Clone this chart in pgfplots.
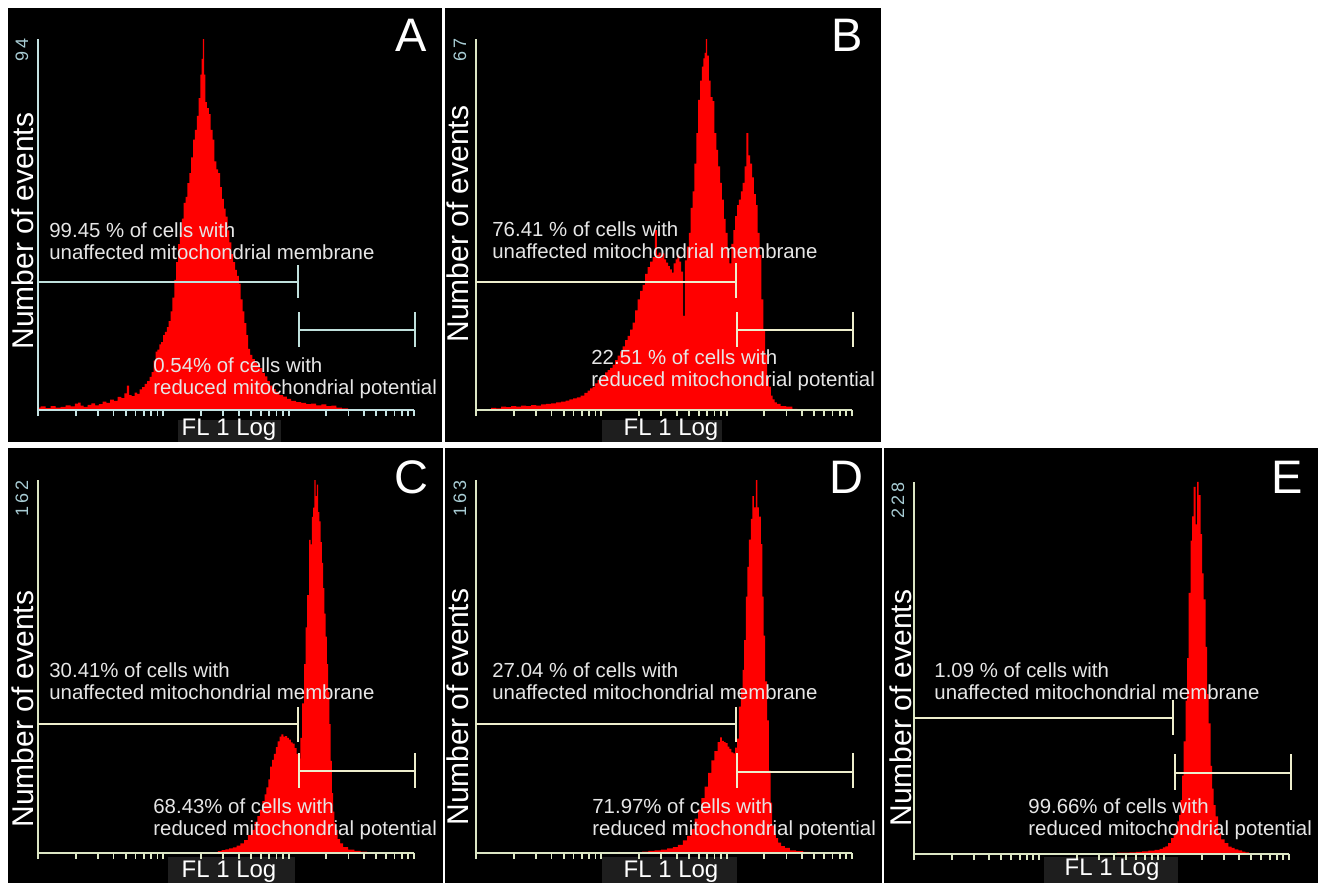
\documentclass[border=0pt]{standalone}
\usepackage{fontspec}
\setmainfont{Liberation Sans}
\usepackage{pgfplots}
\usepackage{pgfplotstable}
\pgfplotsset{compat=1.18}

\definecolor{gatecyan}{HTML}{BFE0DC}
\definecolor{gatecream}{HTML}{EEEECC}
\definecolor{axcyan}{HTML}{C4E2E2}
\definecolor{axcream}{HTML}{DCE6C4}
\definecolor{maxlbl}{HTML}{A8CCD4}
\definecolor{lblbg}{HTML}{1E1E1E}
\definecolor{txt}{HTML}{E6E6E6}
\definecolor{hist}{HTML}{FF0000}

% x = log10 of FL1 channel (0..3), y = number of events
\pgfplotstableread{
x y
0.00 0.6
0.04 0.9
0.08 0.5
0.12 1.0
0.16 0.6
0.20 0.8
0.24 1.2
0.28 0.9
0.31 1.6
0.33 1.9
0.35 1.1
0.38 0.8
0.41 1.3
0.44 1.7
0.47 1.2
0.50 1.5
0.53 2.1
0.56 1.8
0.59 2.6
0.62 2.3
0.65 3.3
0.68 3.0
0.70 4.2
0.72 6.2
0.735 3.8
0.76 3.5
0.78 4.4
0.80 4.1
0.82 5.2
0.84 5.8
0.86 6.6
0.88 7.3
0.90 8.4
0.915 9.6
0.93 12.5
0.945 14.8
0.96 15.3
0.975 16.6
0.99 17.2
1.005 19.0
1.02 19.8
1.035 21.0
1.05 22.5
1.065 25.0
1.08 28.5
1.095 33.0
1.11 37.5
1.125 42.0
1.14 45.0
1.155 48.5
1.17 52.5
1.185 54.0
1.20 57.5
1.215 60.0
1.23 64.0
1.245 68.5
1.26 71.0
1.275 74.5
1.29 79.0
1.30 85.0
1.31 89.0
1.32 94.0
1.33 85.0
1.34 78.0
1.355 76.5
1.37 75.0
1.385 71.0
1.40 68.5
1.415 63.0
1.43 61.0
1.445 60.0
1.46 56.5
1.475 53.5
1.49 51.0
1.505 49.0
1.52 45.5
1.535 42.5
1.55 39.5
1.565 37.5
1.58 35.5
1.595 34.0
1.61 32.0
1.625 28.0
1.64 25.0
1.655 22.0
1.67 19.0
1.685 15.5
1.70 14.0
1.72 12.9
1.74 12.0
1.76 11.4
1.78 10.6
1.80 9.4
1.82 8.5
1.84 7.3
1.86 6.2
1.88 5.3
1.91 4.6
1.94 3.8
1.97 3.4
2.00 2.8
2.04 2.3
2.08 2.0
2.12 1.8
2.16 1.5
2.20 1.6
2.24 1.2
2.28 1.4
2.32 1.0
2.36 1.1
2.40 0.6
2.45 0.4
2.50 0.2
2.55 0.0
3.00 0.0
}\histA

\pgfplotstableread{
x y
0.00 0.0
0.10 0.1
0.14 0.4
0.18 0.3
0.22 0.6
0.26 0.5
0.30 0.7
0.34 0.6
0.38 0.8
0.42 0.7
0.46 0.9
0.50 0.8
0.54 1.0
0.58 1.1
0.62 1.2
0.66 1.4
0.70 1.5
0.73 1.7
0.76 1.9
0.79 2.1
0.82 2.3
0.85 2.6
0.88 3.1
0.90 3.5
0.92 3.9
0.94 4.2
0.96 4.8
0.98 5.4
1.00 5.8
1.02 6.2
1.04 6.8
1.06 7.2
1.08 7.6
1.10 8.2
1.12 9.0
1.14 9.8
1.16 10.6
1.18 11.5
1.20 12.6
1.22 13.4
1.24 14.5
1.26 15.8
1.28 18.0
1.30 20.0
1.32 21.5
1.34 22.6
1.36 24.6
1.38 25.8
1.40 26.8
1.42 27.6
1.435 32.5
1.45 28.0
1.465 28.4
1.48 27.5
1.495 28.3
1.51 27.2
1.525 26.6
1.54 26.0
1.555 25.4
1.57 24.8
1.585 26.5
1.60 27.2
1.615 28.0
1.63 26.8
1.645 25.0
1.66 17.0
1.675 27.0
1.69 29.5
1.705 32.0
1.72 36.5
1.735 39.5
1.75 44.5
1.765 50.0
1.78 56.0
1.795 59.5
1.81 62.0
1.82 63.5
1.83 64.5
1.84 67.0
1.85 64.0
1.865 59.5
1.88 56.5
1.895 55.8
1.91 50.0
1.925 47.0
1.94 44.0
1.955 41.0
1.97 38.0
1.985 34.5
2.00 32.0
2.015 28.5
2.03 26.5
2.045 30.0
2.06 32.5
2.075 35.0
2.09 37.0
2.105 38.0
2.12 39.5
2.135 41.0
2.15 44.0
2.165 50.0
2.18 46.0
2.195 44.5
2.21 42.0
2.225 39.0
2.24 37.0
2.255 32.0
2.27 28.0
2.285 20.0
2.30 14.5
2.315 10.0
2.33 6.0
2.345 4.2
2.36 2.6
2.375 1.9
2.39 1.4
2.41 1.1
2.45 0.7
2.50 0.6
2.55 0.2
2.58 0.0
3.00 0.0
}\histB

\pgfplotstableread{
x y
0.00 0.0
1.40 0.0
1.42 0.3
1.45 0.8
1.48 1.2
1.51 1.6
1.54 2.0
1.57 2.4
1.60 3.2
1.63 4.2
1.66 5.6
1.69 7.8
1.715 10.0
1.74 13.5
1.76 16.0
1.78 18.8
1.80 22.5
1.815 25.5
1.83 28.5
1.845 32.0
1.86 37.5
1.875 40.5
1.89 43.0
1.905 46.0
1.92 48.5
1.935 50.5
1.95 51.5
1.965 50.5
1.98 50.8
1.995 50.0
2.01 49.2
2.025 48.0
2.04 47.5
2.055 45.5
2.07 43.0
2.085 41.0
2.10 50.0
2.115 65.0
2.13 82.0
2.14 98.0
2.155 112.0
2.17 136.0
2.18 134.0
2.19 146.0
2.20 150.0
2.21 162.0
2.22 155.0
2.23 160.0
2.24 148.0
2.25 144.0
2.26 135.0
2.27 126.0
2.28 115.0
2.29 104.0
2.30 94.0
2.31 82.0
2.32 70.0
2.33 56.0
2.34 40.0
2.35 26.0
2.36 18.0
2.37 13.0
2.38 10.0
2.40 6.0
2.42 4.2
2.45 2.6
2.50 1.5
2.55 0.9
2.60 0.6
2.65 0.3
2.70 0.0
3.00 0.0
}\histC

\pgfplotstableread{
x y
0.00 0.0
1.13 0.0
1.14 0.5
1.16 0.0
1.30 0.3
1.35 0.6
1.40 0.9
1.45 1.2
1.50 1.5
1.55 2.0
1.59 2.6
1.63 3.6
1.67 5.5
1.70 7.5
1.73 10.5
1.76 15.0
1.785 19.0
1.81 24.0
1.84 29.0
1.865 35.0
1.89 40.5
1.915 44.5
1.94 48.5
1.955 50.5
1.97 49.0
1.985 48.5
2.00 48.0
2.015 46.5
2.03 45.5
2.045 44.0
2.06 43.5
2.075 46.0
2.09 50.0
2.105 64.0
2.12 72.0
2.135 80.0
2.145 93.0
2.16 112.0
2.17 125.0
2.185 137.0
2.20 146.0
2.21 156.0
2.225 151.0
2.24 163.0
2.25 151.0
2.265 147.0
2.28 135.0
2.29 112.0
2.30 95.0
2.315 75.0
2.33 58.0
2.345 36.0
2.355 22.0
2.37 12.0
2.385 8.5
2.40 6.5
2.42 4.5
2.45 3.0
2.48 2.2
2.53 1.2
2.58 0.8
2.64 0.5
2.70 0.0
3.00 0.0
}\histD

\pgfplotstableread{
x y
0.00 0.0
0.38 0.0
0.39 0.6
0.41 0.0
1.16 0.0
1.17 0.6
1.19 0.0
1.40 0.0
1.41 0.5
1.43 0.0
1.55 0.3
1.60 0.6
1.65 0.8
1.70 0.9
1.75 1.0
1.80 1.3
1.85 1.6
1.90 2.0
1.95 2.6
1.98 3.2
2.00 4.0
2.02 4.7
2.045 6.7
2.07 9.8
2.085 12.5
2.10 15.5
2.115 20.0
2.125 24.0
2.14 33.0
2.15 48.0
2.165 69.0
2.18 94.0
2.19 120.0
2.205 160.0
2.22 192.0
2.23 207.0
2.245 225.0
2.26 202.0
2.27 228.0
2.285 220.0
2.30 196.0
2.31 172.0
2.325 156.0
2.34 127.0
2.35 98.0
2.365 80.0
2.38 54.0
2.39 40.0
2.405 30.0
2.42 23.0
2.445 13.0
2.47 9.0
2.50 6.7
2.53 4.5
2.55 3.7
2.58 2.8
2.61 2.2
2.64 1.5
2.66 1.0
2.70 0.3
2.75 0.0
3.00 0.0
}\histE

\pgfplotsset{
  facs/.style={
    scale only axis, anchor=south west,
    xmin=0, xmax=3, ymin=0,
    axis lines=left,
    axis line style={-, line width=1pt},
    xtick={0,1,2,3}, xticklabels={},
    minor xtick={0.301,0.477,0.602,0.699,0.778,0.845,0.903,0.954,
      1.301,1.477,1.602,1.699,1.778,1.845,1.903,1.954,
      2.301,2.477,2.602,2.699,2.778,2.845,2.903,2.954},
    ytick=\empty,
    tick align=outside,
    major tick length=3pt, minor tick length=3pt,
    tick style={line width=0.9pt},
    axis on top, clip=false,
  },
  hist/.style={fill=hist, draw=none, const plot mark mid},
}

\newcommand{\annot}[4]{% x, y of first baseline, line 1, line 2
  \node[anchor=base west, inner sep=0, text=txt, font=\fontsize{10.2}{12}\selectfont] at (#1,#2) {#3};
  \node[anchor=base west, inner sep=0, text=txt, font=\fontsize{10.2}{12}\selectfont] at (#1,#2+22.5) {#4};
}

\begin{document}
\begin{tikzpicture}[x=0.5pt, y=-0.5pt]
\useasboundingbox (0,0) rectangle (1318,883);
\fill[white] (0,0) rectangle (1318,883);

% panel backgrounds
\fill[black] (8,8) rectangle (442,442);
\fill[black] (445,8) rectangle (881,442);
\fill[black] (8,448) rectangle (443,883);
\fill[black] (445,448) rectangle (882,883);
\fill[black] (884,448) rectangle (1318,883);

% boxes behind the x-axis labels
\fill[lblbg] (178,420) rectangle (281,442);
\fill[lblbg] (602,420) rectangle (722,442);
\fill[lblbg] (168,857) rectangle (295,883);
\fill[lblbg] (602,857) rectangle (737,883);
\fill[lblbg] (1044,857) rectangle (1178,883);

% axis origins (lower left corner of each plot area)
\coordinate (oA) at (38,410);
\coordinate (oB) at (476,410);
\coordinate (oC) at (38,853);
\coordinate (oD) at (476,853);
\coordinate (oE) at (914,854);

% A
\begin{axis}[facs, at={(oA)}, width=188pt, height=185.5pt, ymax=94,
  axis line style={axcyan}, tick style={axcyan}]
\addplot[hist] table {\histA} \closedcycle;
\end{axis}
% B
\begin{axis}[facs, at={(oB)}, width=188pt, height=185.5pt, ymax=67,
  axis line style={axcream}, tick style={axcream}]
\addplot[hist] table {\histB} \closedcycle;
\end{axis}
% C
\begin{axis}[facs, at={(oC)}, width=188pt, height=186.5pt, ymax=162,
  axis line style={axcream}, tick style={axcream}]
\addplot[hist] table {\histC} \closedcycle;
\end{axis}
% D
\begin{axis}[facs, at={(oD)}, width=188pt, height=186.5pt, ymax=163,
  axis line style={axcream}, tick style={axcream}]
\addplot[hist] table {\histD} \closedcycle;
\end{axis}
% E
\begin{axis}[facs, at={(oE)}, width=187.5pt, height=186pt, ymax=228,
  axis line style={axcream}, tick style={axcream}]
\addplot[hist] table {\histE} \closedcycle;
\end{axis}

% gates
\begin{scope}[line width=1pt, draw=gatecyan]
\draw (38,282) -- (298,282); \draw (298,265) -- (298,298);
\draw (299,330) -- (415,330); \draw (299,312) -- (299,347); \draw (415,312) -- (415,347);
\end{scope}
\begin{scope}[line width=1pt, draw=gatecream]
\draw (476,282) -- (736,282); \draw (736,263) -- (736,298);
\draw (737,330) -- (853,330); \draw (737,312) -- (737,347); \draw (853,312) -- (853,347);
\draw (38,724) -- (298,724); \draw (298,707) -- (298,742);
\draw (299,771) -- (415,771); \draw (299,753) -- (299,788); \draw (415,753) -- (415,788);
\draw (476,724) -- (736,724); \draw (736,707) -- (736,742);
\draw (737,772) -- (853,772); \draw (737,753) -- (737,788); \draw (853,753) -- (853,788);
\draw (914,718) -- (1173,718); \draw (1173,700) -- (1173,735);
\draw (1175,773) -- (1291,773); \draw (1175,754) -- (1175,790); \draw (1291,754) -- (1291,790);
\end{scope}

% annotations
\annot{49}{237}{99.45 \% of cells with}{unaffected mitochondrial membrane}
\annot{153}{372}{0.54\% of cells with}{reduced mitochondrial potential}
\annot{492}{236}{76.41 \% of cells with}{unaffected mitochondrial membrane}
\annot{591}{364}{22.51 \% of cells with}{reduced mitochondrial potential}
\annot{49}{677}{30.41\% of cells with}{unaffected mitochondrial membrane}
\annot{153}{813}{68.43\% of cells with}{reduced mitochondrial potential}
\annot{492}{677}{27.04 \% of cells with}{unaffected mitochondrial membrane}
\annot{592}{813}{71.97\% of cells with}{reduced mitochondrial potential}
\annot{934}{677}{1.09 \% of cells with}{unaffected mitochondrial membrane}
\annot{1028}{813}{99.66\% of cells with}{reduced mitochondrial potential}

% y axis titles
\begin{scope}[every node/.style={rotate=90, anchor=base, inner sep=0, text=white,
    font=\fontsize{15}{18}\selectfont}]
\node at (33,231) {Number of events};
\node at (468,224) {Number of events};
\node at (33,709) {Number of events};
\node at (468,707) {Number of events};
\node at (911,708) {Number of events};
\end{scope}

% y maxima
\begin{scope}[every node/.style={rotate=90, anchor=base east, inner sep=0, text=maxlbl,
    font=\fontsize{9}{10}\selectfont\addfontfeature{LetterSpace=18}}]
\node at (28,38) {94};
\node at (466,38) {67};
\node at (28,480) {162};
\node at (466,480) {163};
\node at (904,482) {228};
\end{scope}

% x axis titles
\begin{scope}[every node/.style={anchor=base, inner sep=0, text=white,
    font=\fontsize{12}{14}\selectfont}]
\node at (229,435) {FL 1 Log};
\node at (671,435) {FL 1 Log};
\node at (229,877) {FL 1 Log};
\node at (671,877) {FL 1 Log};
\node at (1112,875) {FL 1 Log};
\end{scope}

% panel letters
\begin{scope}[every node/.style={anchor=base east, inner sep=0, text=white,
    font=\fontsize{23.5}{28}\selectfont}]
\node at (427,52) {A};
\node at (863,52) {B};
\node at (429,493) {C};
\node at (864,493) {D};
\node at (1303,493) {E};
\end{scope}
\end{tikzpicture}
\end{document}
